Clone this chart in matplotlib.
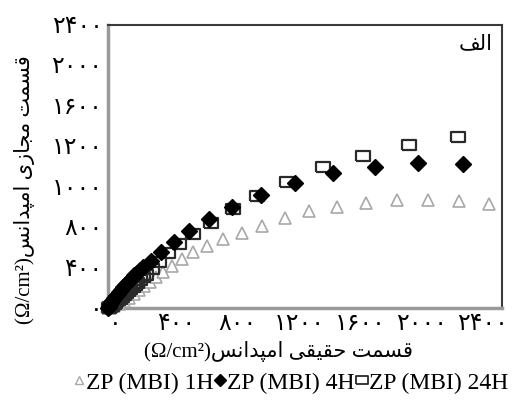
import matplotlib
matplotlib.use("Agg")
import matplotlib.pyplot as plt
import matplotlib.transforms as mtransforms
from matplotlib.lines import Line2D

# Persian text, pre-shaped into presentation forms (visual left-to-right order),
# since matplotlib does not do Arabic shaping itself.
QESMAT = "\uFE96\uFEE4\uFEB4\uFED7"          # قسمت
MAJAZI = "\uFEEF\uFEAF\uFE8E\uFEA0\uFEE3"    # مجازی
HAQIQI = "\uFEF0\uFED8\uFEF4\uFED8\uFEA3"    # حقیقی
AMPEDANS = "\uFEB2\uFEE7\uFE8D\uFEAA\uFB59\uFEE3\uFE8D"  # امپدانس
ALEF = "\uFED2\uFEDF\uFE8D"                  # الف
UNIT = "(\u03A9/cm\u00B2)"

# tick labels as printed on the chart
x_ticks = [0, 400, 800, 1200, 1600, 2000, 2400]
x_tick_labels = ["۰", "۴۰۰", "۸۰۰", "۱۲۰۰", "۱۶۰۰", "۲۰۰۰", "۲۴۰۰"]
y_ticks = [0, 400, 800, 1200, 1600, 2000, 2400, 2800]
y_tick_labels = ["۰", "۴۰۰", "۸۰۰", "۱۰۰۰", "۱۲۰۰", "۱۶۰۰", "۲۰۰۰", "۲۴۰۰"]

# ZP (MBI) 1H
z1_re = [0, 13, 39, 72, 104, 137, 170, 202, 235, 274, 313, 359, 417, 482, 554,
         645, 750, 874, 1004, 1154, 1311, 1493, 1682, 1884, 2086, 2289, 2484]
z1_im = [0, 0, 20, 40, 69, 99, 139, 178, 218, 257, 307, 356, 416, 485, 554,
         614, 683, 743, 812, 891, 960, 1000, 1040, 1069, 1069, 1059, 1030]

# ZP (MBI) 4H
z4_re = [0, 4, 7, 13, 20, 26, 33, 42, 52, 62, 72, 85, 98, 111, 124, 140, 156,
         172, 189, 208, 228, 280, 346, 430, 528, 659, 808, 998, 1219, 1467,
         1741, 2021, 2315]
z4_im = [0, 10, 20, 35, 50, 65, 79, 99, 119, 139, 158, 183, 208, 228, 248, 272,
         297, 322, 347, 376, 406, 465, 554, 653, 762, 881, 1000, 1119, 1238,
         1337, 1396, 1436, 1426]

# ZP (MBI) 24H
z24_re = [7, 16, 26, 36, 46, 55, 65, 78, 91, 104, 117, 130, 143, 160, 176, 192,
          209, 228, 248, 287, 333, 391, 463, 554, 672, 815, 971, 1167, 1402,
          1663, 1963, 2282]
z24_im = [0, 10, 20, 35, 50, 65, 79, 94, 109, 129, 149, 168, 188, 208, 228, 252,
          277, 302, 327, 386, 455, 545, 634, 733, 842, 980, 1109, 1247, 1396,
          1505, 1614, 1693]

serif = ["Liberation Serif", "DejaVu Sans"]
rect = [(-1.4, -1), (1.4, -1), (1.4, 1), (-1.4, 1), (-1.4, -1)]

fig = plt.figure(figsize=(5.2, 4.05), dpi=100)
ax = fig.add_axes([0.2077, 0.2395, 0.7577, 0.6988])

ax.plot(z1_re, z1_im, linestyle="none", marker="^", ms=8, mfc="white",
        mec="#a8a8a8", mew=1.2, clip_on=False, zorder=3)
ax.plot(z24_re, z24_im, linestyle="none", marker=rect, ms=10, mfc="none",
        mec="#2a2a2a", mew=1.6, clip_on=False, zorder=4)
ax.plot(z4_re, z4_im, linestyle="none", marker="D", ms=8, mfc="black",
        mec="black", clip_on=False, zorder=5)

ax.set_xlim(0, 2570)
ax.set_ylim(0, 2800)
ax.set_xticks(x_ticks)
ax.set_xticklabels(x_tick_labels, family=serif, fontsize=17)
ax.set_yticks(y_ticks)
ax.set_yticklabels(y_tick_labels, family=serif, fontsize=17)
ax.tick_params(length=0)
ax.tick_params(axis="x", pad=4)
ax.tick_params(axis="y", pad=4)

# x labels sit a little right of their ticks in the original
shift = mtransforms.ScaledTranslation(7 / 100, 0, fig.dpi_scale_trans)
for lab in ax.get_xticklabels():
    lab.set_transform(lab.get_transform() + shift)

for side in ("left", "bottom"):
    ax.spines[side].set_color("#9a9a9a")
    ax.spines[side].set_linewidth(2.5)
for side in ("top", "right"):
    ax.spines[side].set_color("#3a3a3a")
    ax.spines[side].set_linewidth(1.5)

ax.text(0.975, 0.93, ALEF, transform=ax.transAxes, ha="right", va="center",
        family=serif, fontsize=15)

fig.text(279 / 520, 1 - 352 / 405, UNIT + AMPEDANS + " " + HAQIQI + " " + QESMAT,
         ha="center", va="center", family=serif, fontsize=15)
fig.text(25 / 520, 1 - 190 / 405, UNIT + AMPEDANS + " " + MAJAZI + " " + QESMAT,
         ha="center", va="center", rotation=90, family=serif, fontsize=15)

handles = [
    Line2D([], [], linestyle="none", marker="^", ms=6, mfc="white",
           mec="#a8a8a8", mew=1.0),
    Line2D([], [], linestyle="none", marker="D", ms=6, mfc="black", mec="black"),
    Line2D([], [], linestyle="none", marker=rect, ms=8, mfc="none",
           mec="#2a2a2a", mew=1.3),
]
fig.legend(handles, ["ZP (MBI) 1H", "ZP (MBI) 4H", "ZP (MBI) 24H"],
           loc="center", bbox_to_anchor=(290 / 520, 1 - 383 / 405), ncol=3,
           frameon=False, handlelength=0.6, handletextpad=0.0,
           columnspacing=0.0, borderpad=0, prop={"family": serif, "size": 17})

fig.savefig("out.png", dpi=100)
